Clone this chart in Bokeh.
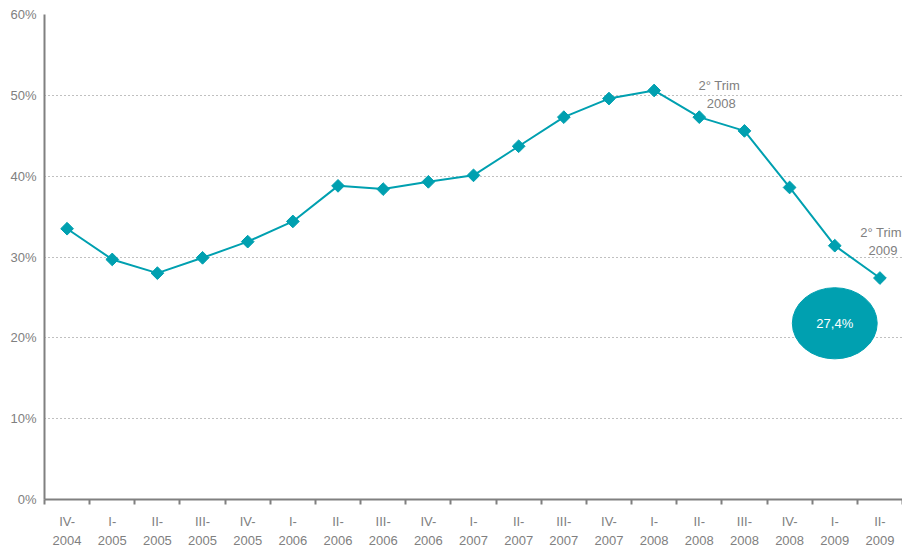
import math
from bokeh.plotting import figure
from bokeh.models import FixedTicker, ColumnDataSource, Label, Range1d
from bokeh.embed import file_html
from bokeh.resources import INLINE

quarters = ["IV-\n2004", "I-\n2005", "II-\n2005", "III-\n2005", "IV-\n2005",
            "I-\n2006", "II-\n2006", "III-\n2006", "IV-\n2006",
            "I-\n2007", "II-\n2007", "III-\n2007", "IV-\n2007",
            "I-\n2008", "II-\n2008", "III-\n2008", "IV-\n2008",
            "I-\n2009", "II-\n2009"]
values = [33.5, 29.7, 28.0, 29.9, 31.9, 34.4, 38.8, 38.4, 39.3, 40.1,
          43.7, 47.3, 49.6, 50.6, 47.3, 45.6, 38.6, 31.4, 27.4]
y_ticks = [0, 10, 20, 30, 40, 50, 60]
y_labels = ["0%", "10%", "20%", "30%", "40%", "50%", "60%"]

TEAL = "#00A0B0"
GRAY = "#808080"
FONT = "Liberation Sans"
FS = "13px"

xs = [i + 0.5 for i in range(len(quarters))]
src = ColumnDataSource(dict(x=xs, y=values))

p = figure(width=902, height=551, output_backend="svg", toolbar_location=None,
           x_range=Range1d(0, len(quarters)), y_range=Range1d(0, 60),
           min_border_top=14, min_border_left=44, min_border_right=0, min_border_bottom=3)
p.outline_line_color = None
p.background_fill_color = "white"

p.line("x", "y", source=src, line_color=TEAL, line_width=2)
p.scatter("x", "y", source=src, marker="square", angle=math.pi / 4, size=9,
          fill_color=TEAL, line_color=TEAL)

# x axis
p.xaxis.ticker = FixedTicker(ticks=xs, minor_ticks=list(range(len(quarters) + 1)))
p.xaxis.major_label_overrides = {x: q for x, q in zip(xs, quarters)}
p.xaxis.major_tick_out = 0
p.xaxis.major_tick_in = 0
p.xaxis.minor_tick_out = 5
p.xaxis.minor_tick_in = 0
p.xaxis.minor_tick_line_color = GRAY
p.xaxis.minor_tick_line_width = 2
p.xaxis.axis_line_color = GRAY
p.xaxis.axis_line_width = 2
p.xaxis.major_label_text_color = GRAY
p.xaxis.major_label_text_font = FONT
p.xaxis.major_label_text_font_size = FS
p.xaxis.major_label_text_line_height = 1.3
p.xaxis.major_label_standoff = 9

# y axis
p.yaxis.ticker = FixedTicker(ticks=y_ticks)
p.yaxis.major_label_overrides = {t: l for t, l in zip(y_ticks, y_labels)}
p.yaxis.major_tick_out = 0
p.yaxis.major_tick_in = 0
p.yaxis.minor_tick_line_color = None
p.yaxis.axis_line_color = GRAY
p.yaxis.axis_line_width = 2
p.yaxis.major_label_text_color = GRAY
p.yaxis.major_label_text_font = FONT
p.yaxis.major_label_text_font_size = FS
p.yaxis.major_label_standoff = 8

p.xgrid.grid_line_color = None
p.ygrid.ticker = FixedTicker(ticks=y_ticks[1:])
p.ygrid.grid_line_color = "#808080"
p.ygrid.grid_line_dash = "1 3"
p.ygrid.grid_line_width = 1

# annotations
peak_idx = 14
last_idx = len(values) - 1
for idx, dx, dy in [(peak_idx, 20, 32), (last_idx, 1, 46)]:
    p.add_layout(Label(x=xs[idx], y=values[idx], text="2° Trim",
                       x_offset=dx, y_offset=dy, text_align="center", text_baseline="middle",
                       text_color=GRAY, text_font=FONT, text_font_size=FS))
    p.add_layout(Label(x=xs[idx], y=values[idx], text=quarters[idx].split("\n")[1],
                       x_offset=dx + 2, y_offset=dy - 18, text_align="center", text_baseline="middle",
                       text_color=GRAY, text_font=FONT, text_font_size=FS))

ell_x = xs[last_idx - 1]
ell_y = values[last_idx] - 5.6
ell_src = ColumnDataSource(dict(x=[ell_x], y=[ell_y]))
p.ellipse("x", "y", source=ell_src, width=1.88, height=8.8, fill_color=TEAL, line_color=TEAL)
p.add_layout(Label(x=ell_x, y=ell_y, text="27,4%",
                   text_align="center", text_baseline="middle", text_color="white",
                   text_font=FONT, text_font_size=FS))

open("out.html", "w").write(file_html(p, INLINE))
